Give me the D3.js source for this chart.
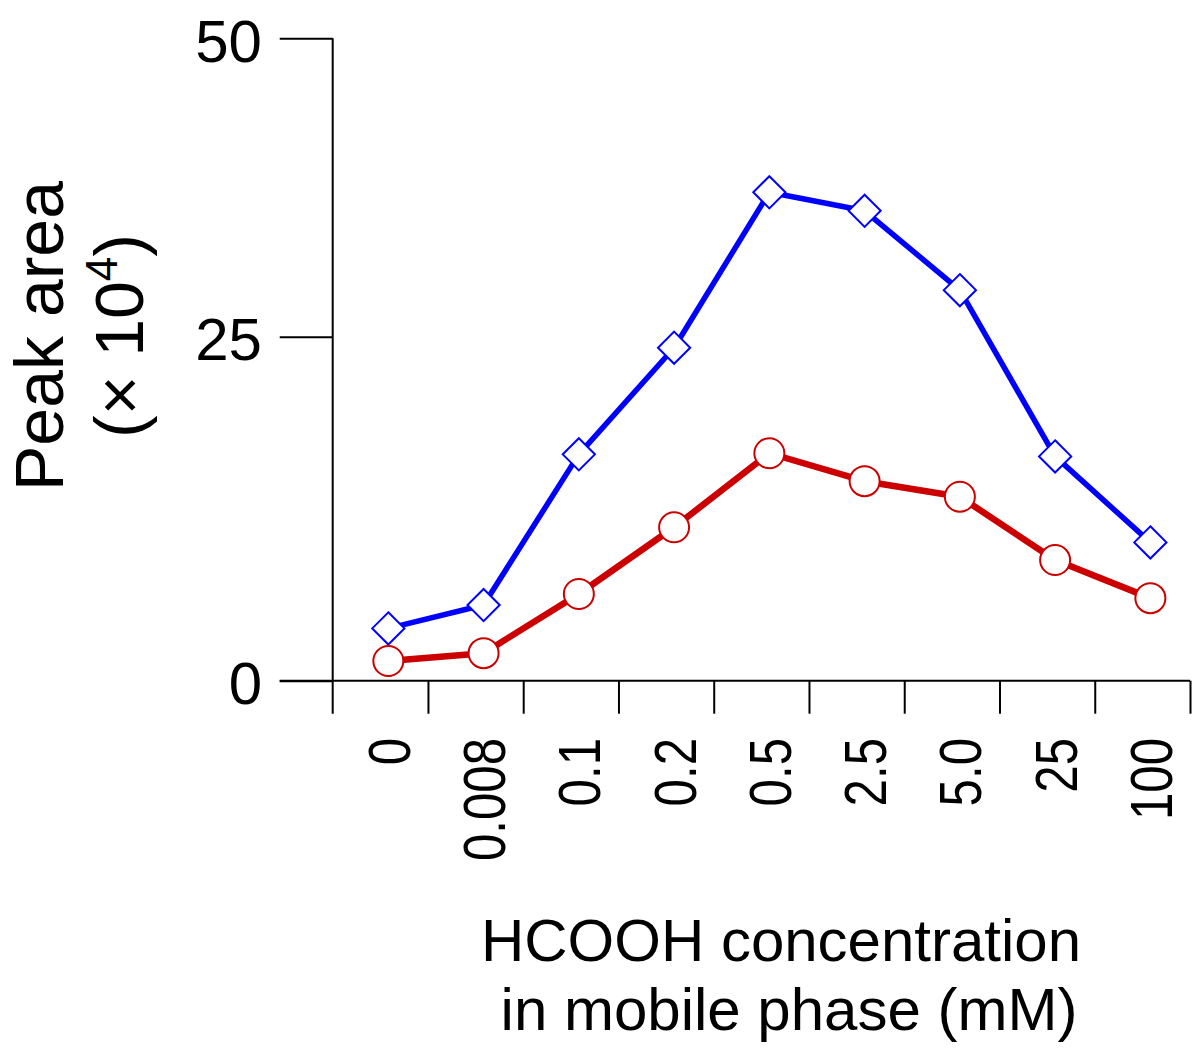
<!DOCTYPE html>
<html>
<head>
<meta charset="utf-8">
<script src="https://cdn.jsdelivr.net/npm/d3@7"></script>
<style>
html,body{margin:0;padding:0;background:#fff;}
svg{display:block;}
text{font-family:"Liberation Sans",Arial,Helvetica,sans-serif;fill:#000;}
</style>
</head>
<body>
<svg id="chart" width="1200" height="1057"></svg>
<script>
// ---- data ----
const categories = ["0","0.008","0.1","0.2","0.5","2.5","5.0","25","100"];
const blueValues = [3.8, 5.5, 16.45, 24.2, 37.1, 35.55, 28.9, 16.3, 10.05];
const redValues  = [1.43, 2.0, 6.3, 11.15, 16.53, 14.5, 13.37, 8.77, 6.0];
const yTickValues = [0, 25, 50];
const yTickLabels = ["0", "25", "50"];
const xTitleLines = ["HCOOH concentration", "in mobile phase (mM)"];

const svg = d3.select("#chart");

// ---- scales ----
const x = d3.scaleBand().domain(categories).range([332.7, 1190]).paddingInner(0).paddingOuter(0);
const xEdge = d3.scaleLinear().domain([0, categories.length]).range(x.range());
// axis in the original is piecewise linear between labelled ticks
const y = d3.scaleLinear().domain(yTickValues).range([680.7, 336.7, 38.3]);
const px = c => x(c) + x.bandwidth() * 0.584;

const axisG = svg.append("g");
// y axis
const yAxis = d3.axisLeft(y).tickValues(yTickValues).tickSize(53).tickFormat("");
const yg = axisG.append("g").attr("transform", `translate(${x.range()[0]},0)`).call(yAxis);
yg.select(".domain").remove();
yg.selectAll(".tick line").attr("stroke", "#000").attr("stroke-width", 2);
// vertical axis line, extending below the baseline to the tick ends
axisG.append("line")
  .attr("x1", x.range()[0]).attr("x2", x.range()[0])
  .attr("y1", y(50)).attr("y2", y(0) + 33)
  .attr("stroke", "#000").attr("stroke-width", 2);
// x axis
const xAxis = d3.axisBottom(xEdge).tickValues(d3.range(1, categories.length + 1)).tickSize(33).tickFormat("");
const xg = axisG.append("g").attr("transform", `translate(0,${y(0)})`).call(xAxis);
xg.select(".domain").remove();
xg.selectAll(".tick line").attr("stroke", "#000").attr("stroke-width", 2);
axisG.append("line")
  .attr("x1", x.range()[0] - 53).attr("x2", x.range()[1])
  .attr("y1", y(0)).attr("y2", y(0))
  .attr("stroke", "#000").attr("stroke-width", 2);

// y tick labels
svg.append("g").selectAll("text").data(yTickValues).join("text")
  .attr("x", 262).attr("y", d => y(d) + 2)
  .attr("dy", "0.36em")
  .attr("text-anchor", "end")
  .attr("font-size", 60)
  .text((d, i) => yTickLabels[i]);

// x tick labels (rotated, narrow)
svg.append("g").selectAll("text").data(categories).join("text")
  .attr("transform", d => `translate(${px(d)},738) rotate(-90) scale(0.82,1)`)
  .attr("dy", "0.36em")
  .attr("text-anchor", "end")
  .attr("font-size", 60)
  .text(d => d);

// ---- series ----
const line = d3.line().x((d, i) => px(categories[i])).y(d => y(d));

svg.append("path").datum(blueValues)
  .attr("d", line).attr("fill", "none")
  .attr("stroke", "#0000ff").attr("stroke-width", 5.5).attr("stroke-linejoin", "round");
svg.append("g").selectAll("path").data(blueValues).join("path")
  .attr("transform", (d, i) => `translate(${px(categories[i])},${y(d)})`)
  .attr("d", d3.symbol().type(d3.symbolDiamond2).size(660)())
  .attr("fill", "#fff").attr("stroke", "#0000ff").attr("stroke-width", 2);

svg.append("path").datum(redValues)
  .attr("d", line).attr("fill", "none")
  .attr("stroke", "#cc0000").attr("stroke-width", 6.5).attr("stroke-linejoin", "round");
svg.append("g").selectAll("circle").data(redValues).join("circle")
  .attr("cx", (d, i) => px(categories[i])).attr("cy", d => y(d))
  .attr("r", 15)
  .attr("fill", "#fff").attr("stroke", "#cc0000").attr("stroke-width", 2);

// ---- titles ----
const yTitle = svg.append("text")
  .attr("transform", "translate(63,336) rotate(-90)")
  .attr("text-anchor", "middle").attr("font-size", 68);
yTitle.text("Peak area");
const yTitle2 = svg.append("text")
  .attr("transform", "translate(143,336) rotate(-90)")
  .attr("text-anchor", "middle").attr("font-size", 68);
yTitle2.append("tspan").text("(× 10");
yTitle2.append("tspan").attr("font-size", 44).attr("dy", -26).text("4");
yTitle2.append("tspan").attr("dy", 26).text(")");

svg.append("g").selectAll("text").data(xTitleLines).join("text")
  .attr("x", (d, i) => i === 0 ? 781 : 789)
  .attr("y", (d, i) => 961 + i * 69)
  .attr("text-anchor", "middle").attr("font-size", 60)
  .text(d => d);
</script>
</body>
</html>
